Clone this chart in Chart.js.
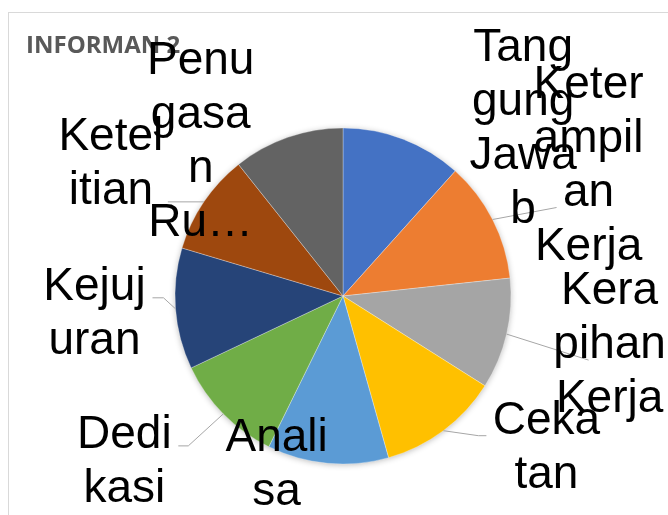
<!DOCTYPE html>
<html>
<head>
<meta charset="utf-8">
<script src="https://cdn.jsdelivr.net/npm/chart.js@4.4.0/dist/chart.umd.min.js"></script>
<style>
  html, body { margin: 0; padding: 0; background: #fff; }
  #wrap { position: relative; width: 668px; height: 515px; }
</style>
</head>
<body>
<div id="wrap"><canvas id="myChart" width="668" height="515"></canvas></div>
<script>
const chartTitle = 'INFORMAN 2';
const categories = ['Tanggung Jawab', 'Keterampilan Kerja', 'Kerapihan Kerja', 'Cekatan', 'Analisa', 'Dedikasi', 'Kejujuran', 'Ketelitian', 'Penugasan Ru…'];
const values = [12, 12, 11, 12, 12, 11, 12, 10, 11];
const sliceColors = ['#4472C4', '#ED7D31', '#A5A5A5', '#FFC000', '#5B9BD5', '#70AD47', '#264478', '#9E480E', '#636363'];

// where each label sits, relative to the outer edge point of its slice
// leader: polyline points (also relative to that edge point)
const labelLayout = [
  { dx: 120, dy: 3, leader: null },
  { dx: 96, dy: -41, leader: [[64, -12]] },
  { dx: 103, dy: 24, leader: [[82, 26]] },
  { dx: 103, dy: 30, leader: [[35, 5], [43, 5]] },
  { dx: -51, dy: 15, leader: null },
  { dx: -99, dy: 61, leader: [[-35, 32], [-45, 32]] },
  { dx: -81, dy: 18, leader: [[-12, -11], [-23, -11]] },
  { dx: -93, dy: -25, leader: [[-36, 0]] },
  { dx: -87, dy: 18, leader: null }
];

const labelFont = '46px "Liberation Sans", Arial, sans-serif';
const lineH = 54;
const wrapWidth = 114;

function wrapText(ctx, text, maxW) {
  const lines = [];
  let cur = '';
  text.split(' ').forEach(word => {
    if (cur && ctx.measureText(cur + ' ' + word).width <= maxW) {
      cur += ' ' + word;
      return;
    }
    if (cur) { lines.push(cur); cur = ''; }
    for (const ch of word) {
      if (cur && ctx.measureText(cur + ch).width > maxW) {
        lines.push(cur);
        cur = ch;
      } else {
        cur += ch;
      }
    }
  });
  if (cur) lines.push(cur);
  return lines;
}

const pieLabels = {
  id: 'pieLabels',
  beforeDatasetsDraw(chart) {
    const ctx = chart.ctx;
    ctx.save();
    // chart frame
    ctx.strokeStyle = '#d9d9d9';
    ctx.lineWidth = 1;
    ctx.strokeRect(8.5, 12.5, 720, 560);
    // title
    ctx.fillStyle = '#595959';
    ctx.font = 'bold 24px "Open Sans", sans-serif';
    ctx.textAlign = 'left';
    ctx.textBaseline = 'alphabetic';
    ctx.fillText(chartTitle, 26, 53);
    // soft shadow under the pie
    const a = chart.getDatasetMeta(0).data[0];
    if (a) {
      const p = a.getProps(['x', 'y', 'outerRadius'], true);
      ctx.shadowColor = 'rgba(0,0,0,0.3)';
      ctx.shadowBlur = 6;
      ctx.shadowOffsetY = 1;
      ctx.fillStyle = '#ffffff';
      ctx.beginPath();
      ctx.arc(p.x, p.y, p.outerRadius - 0.5, 0, Math.PI * 2);
      ctx.fill();
    }
    ctx.restore();
  },
  afterDatasetsDraw(chart) {
    const ctx = chart.ctx;
    const meta = chart.getDatasetMeta(0);
    ctx.save();
    ctx.font = labelFont;
    meta.data.forEach((arc, i) => {
      const p = arc.getProps(['x', 'y', 'startAngle', 'endAngle', 'outerRadius'], true);
      const mid = (p.startAngle + p.endAngle) / 2;
      const ex = p.x + Math.cos(mid) * p.outerRadius;
      const ey = p.y + Math.sin(mid) * p.outerRadius;
      const lay = labelLayout[i];
      if (lay.leader) {
        ctx.strokeStyle = '#a6a6a6';
        ctx.lineWidth = 1;
        ctx.beginPath();
        ctx.moveTo(ex, ey);
        lay.leader.forEach(pt => ctx.lineTo(ex + pt[0], ey + pt[1]));
        ctx.stroke();
      }
    });
    meta.data.forEach((arc, i) => {
      const p = arc.getProps(['x', 'y', 'startAngle', 'endAngle', 'outerRadius'], true);
      const mid = (p.startAngle + p.endAngle) / 2;
      const ex = p.x + Math.cos(mid) * p.outerRadius;
      const ey = p.y + Math.sin(mid) * p.outerRadius;
      const lay = labelLayout[i];
      const lines = wrapText(ctx, chart.data.labels[i], wrapWidth);
      ctx.fillStyle = '#000000';
      ctx.textAlign = 'center';
      ctx.textBaseline = 'alphabetic';
      const cx = ex + lay.dx;
      const cy = ey + lay.dy;
      lines.forEach((ln, k) => {
        ctx.fillText(ln, cx, cy + (k - (lines.length - 1) / 2) * lineH);
      });
    });
    ctx.restore();
  }
};

new Chart(document.getElementById('myChart'), {
  type: 'pie',
  data: {
    labels: categories,
    datasets: [{
      data: values,
      backgroundColor: sliceColors,
      borderColor: 'rgba(255,255,255,0.6)',
      borderWidth: 0.5
    }]
  },
  options: {
    responsive: false,
    animation: false,
    radius: 168,
    layout: { padding: { left: 18, right: 0, top: 77, bottom: 0 } },
    plugins: {
      legend: { display: false },
      tooltip: { enabled: false },
      title: { display: false }
    }
  },
  plugins: [pieLabels]
});
</script>
</body>
</html>
